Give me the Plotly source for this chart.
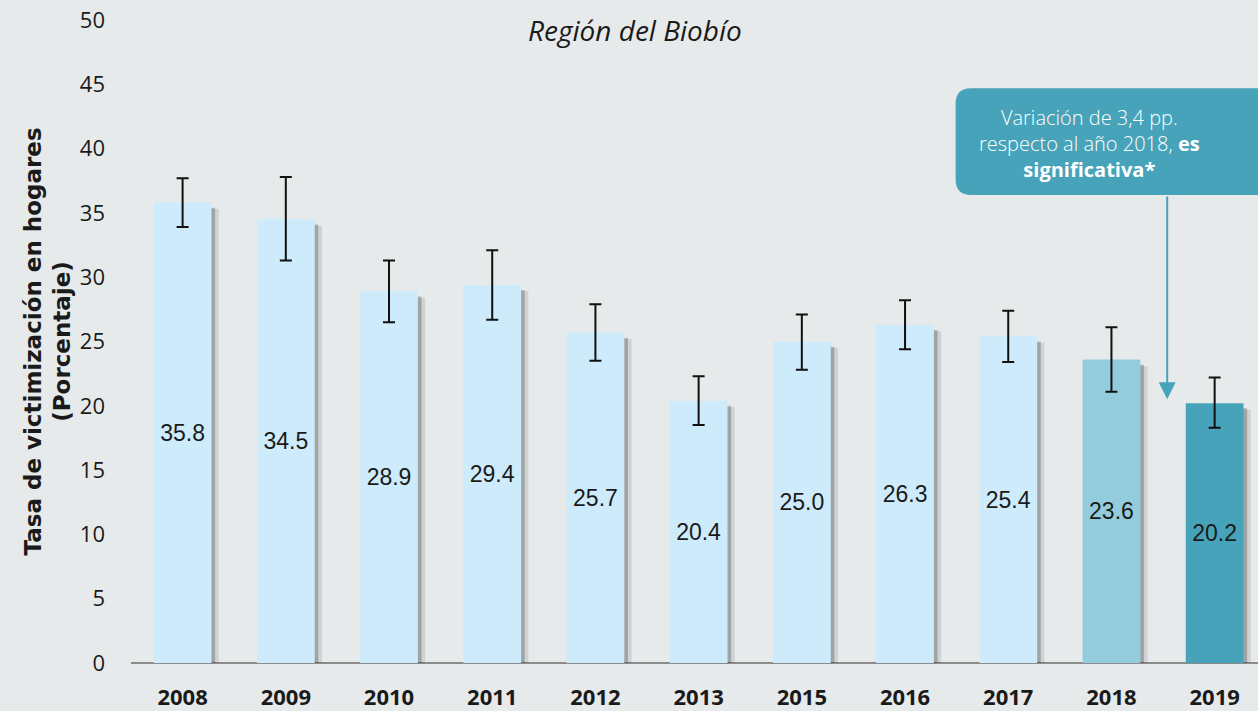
import plotly.graph_objects as go

years = ["2008", "2009", "2010", "2011", "2012", "2013", "2015", "2016", "2017", "2018", "2019"]
values = [35.8, 34.5, 28.9, 29.4, 25.7, 20.4, 25.0, 26.3, 25.4, 23.6, 20.2]
err_plus = [1.9, 3.3, 2.4, 2.7, 2.2, 1.9, 2.1, 1.9, 2.0, 2.5, 2.0]
err_minus = [1.9, 3.2, 2.4, 2.7, 2.2, 1.9, 2.2, 1.9, 2.0, 2.5, 1.9]
bar_colors = ["#cdebfb"] * 9 + ["#93cddd", "#47a3b9"]
box_text = "Variación de 3,4 pp.<br>respecto al año 2018, <b>es</b><br><b>significativa*</b>"

BG = "#e7eaeb"
TEAL = "#47a3b9"
W = 0.56

fig = go.Figure()

# soft shadow (two layers)
fig.add_trace(go.Bar(
    x=years, y=[v - 0.5 for v in values], width=W, offset=-W / 2 + 0.07,
    marker=dict(color="rgba(0,0,0,0.10)", line=dict(width=0)),
    hoverinfo="skip", showlegend=False,
))
fig.add_trace(go.Bar(
    x=years, y=[v - 0.4 for v in values], width=W, offset=-W / 2 + 0.035,
    marker=dict(color="rgba(0,0,0,0.22)", line=dict(width=0)),
    hoverinfo="skip", showlegend=False,
))
fig.add_trace(go.Bar(
    x=years, y=values, width=W, offset=-W / 2,
    marker=dict(color=bar_colors, line=dict(width=0)),
    error_y=dict(type="data", symmetric=False, array=err_plus, arrayminus=err_minus,
                 color="#111111", thickness=2, width=6),
    texttemplate="%{y:.1f}", textposition="inside", insidetextanchor="middle",
    textangle=0,
    textfont=dict(family="Liberation Sans, Arial", size=23, color="#1a1a1a"),
    showlegend=False,
))

# annotation box (rounded rectangle) in data coords
x0, x1, y0, y1 = 7.49, 10.7, 36.4, 44.7
rx, ry = 0.15, 1.2
path = (f"M {x0+rx},{y0} L {x1-rx},{y0} Q {x1},{y0} {x1},{y0+ry} "
        f"L {x1},{y1-ry} Q {x1},{y1} {x1-rx},{y1} L {x0+rx},{y1} "
        f"Q {x0},{y1} {x0},{y1-ry} L {x0},{y0+ry} Q {x0},{y0} {x0+rx},{y0} Z")
fig.add_shape(type="path", path=path, xref="x", yref="y",
              fillcolor=TEAL, line=dict(width=0), layer="above")

fig.add_annotation(
    x=8.79, y=40.4, xref="x", yref="y", text=box_text,
    showarrow=False, align="center", xanchor="center", yanchor="middle",
    font=dict(family="Open Sans", size=20, color="white", weight=300),
)

# arrow
fig.add_annotation(
    x=9.54, y=20.5, ax=9.54, ay=36.4, xref="x", yref="y", axref="x", ayref="y",
    text="", showarrow=True, arrowhead=2, arrowsize=1.7, arrowwidth=2,
    arrowcolor=TEAL,
)

# title
fig.add_annotation(
    x=0.447, y=0.984, xref="paper", yref="paper",
    text="<i>Región del Biobío</i>", showarrow=False,
    xanchor="center", yanchor="middle",
    font=dict(family="Open Sans", size=28, color="#1a1a1a"),
)

# y title
fig.add_annotation(
    x=-0.0745, y=0.5, xref="paper", yref="paper",
    text="<b>Tasa de victimización en hogares<br>(Porcentaje)</b>",
    showarrow=False, textangle=-90, xanchor="center", yanchor="middle",
    font=dict(family="DejaVu Sans", size=23, color="#1a1a1a"),
)

fig.update_layout(
    width=1258, height=711,
    margin=dict(l=131, r=0, t=20, b=48),
    paper_bgcolor=BG, plot_bgcolor=BG,
    barmode="overlay",
    xaxis=dict(
        type="category", range=[-0.5, 10.42],
        showgrid=False, zeroline=False,
        showline=False, ticks="",
        tickfont=dict(family="Open Sans", size=22, color="#1a1a1a", weight="bold"),
        ticklabelstandoff=19,
    ),
    yaxis=dict(
        range=[0, 50], tickvals=list(range(0, 51, 5)),
        showgrid=False, zeroline=True, zerolinecolor="#8c8c8c", zerolinewidth=2,
        showline=False, ticks="",
        tickfont=dict(family="Open Sans", size=22, color="#1a1a1a"),
        ticklabelstandoff=25,
    ),
)

fig.write_html(
    "out.html",
    config={"displayModeBar": False},
    post_script="document.body.style.margin='0';document.body.style.background='#e7eaeb';",
)
